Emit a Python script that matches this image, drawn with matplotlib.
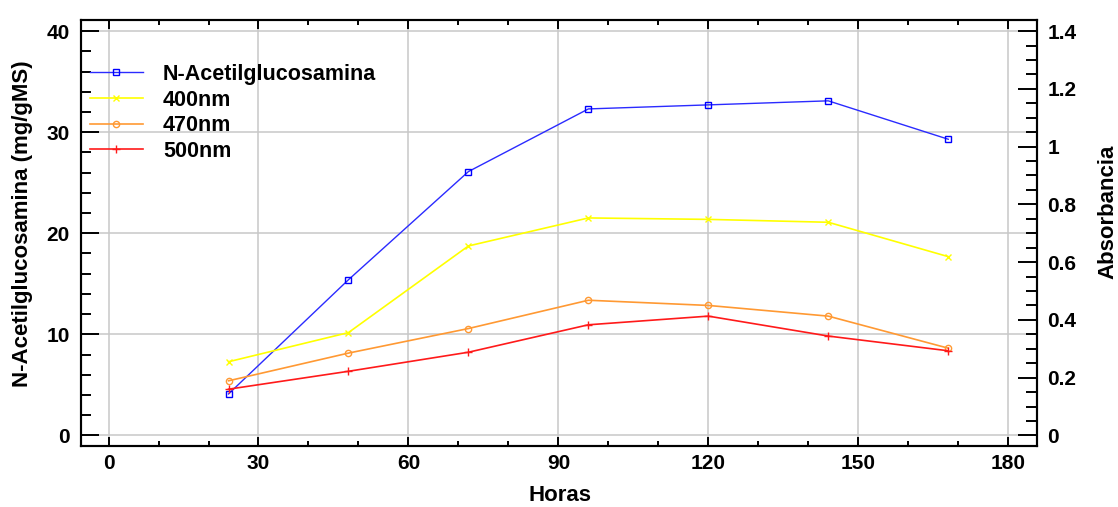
import matplotlib
matplotlib.use('Agg')
import matplotlib.pyplot as plt
from matplotlib.ticker import MultipleLocator

plt.rcParams['font.family'] = ['Liberation Sans', 'DejaVu Sans']
plt.rcParams['font.weight'] = 'bold'

horas = [24, 48, 72, 96, 120, 144, 168]
nag = [4.1, 15.4, 26.1, 32.3, 32.7, 33.1, 29.3]
abs_400 = [0.255, 0.356, 0.656, 0.753, 0.748, 0.738, 0.619]
abs_470 = [0.189, 0.285, 0.370, 0.468, 0.450, 0.413, 0.302]
abs_500 = [0.160, 0.222, 0.288, 0.383, 0.413, 0.344, 0.293]

fig = plt.figure(figsize=(11.18, 5.07), dpi=100)
ax = fig.add_axes([0.0725, 0.1203, 0.8548, 0.8403])
ax2 = ax.twinx()

h1, = ax.plot(horas, nag, color='#2b2bff', lw=1.0, marker='s', ms=4.5,
              mfc='none', mec='#0000ff', mew=1.0, label='N-Acetilglucosamina')
h2, = ax2.plot(horas, abs_400, color='#ffff00', lw=1.2, marker='x', ms=5,
               mew=1.0, label='400nm')
h3, = ax2.plot(horas, abs_470, color='#ff9933', lw=1.2, marker='o', ms=4.5,
               mfc='none', mew=1.0, label='470nm')
h4, = ax2.plot(horas, abs_500, color='#ff1a1a', lw=1.2, marker='+', ms=6,
               mew=1.0, label='500nm')

ax.set_xlim(-5.5, 185.7)
ax.set_ylim(-1.05, 41.1)
ax2.set_ylim(-1.05 * 0.035, 41.1 * 0.035)

ax.xaxis.set_major_locator(MultipleLocator(30))
ax.xaxis.set_minor_locator(MultipleLocator(10))
ax.yaxis.set_major_locator(MultipleLocator(10))
ax.yaxis.set_minor_locator(MultipleLocator(2))
ax2.yaxis.set_major_locator(MultipleLocator(0.2))
ax2.yaxis.set_minor_locator(MultipleLocator(0.05))
ax2.yaxis.set_major_formatter(plt.FuncFormatter(lambda v, p: '%g' % round(v, 2)))

ax.grid(True, which='major', color='#c8c8c8', lw=1.1)
ax.set_axisbelow(True)

ax.tick_params(axis='x', which='major', direction='in', top=True, length=6.5,
               width=1.4, pad=6, labelsize=15)
ax.tick_params(axis='x', which='minor', direction='in', top=True, length=3.5,
               width=1.4)
ax.tick_params(axis='y', which='major', direction='in', length=13, width=1.4,
               pad=8, labelsize=15)
ax.tick_params(axis='y', which='minor', direction='in', length=7, width=1.4)
ax2.tick_params(axis='y', which='major', direction='in', length=14, width=1.4,
                pad=7.5, labelsize=15)
ax2.tick_params(axis='y', which='minor', direction='in', length=8, width=1.4)

for a in (ax, ax2):
    for s in a.spines.values():
        s.set_linewidth(1.5)

ax.set_xlabel('Horas', fontsize=16, fontweight='bold')
ax.set_ylabel('N-Acetilglucosamina (mg/gMS)', fontsize=16, fontweight='bold')
ax2.set_ylabel('Absorbancia', fontsize=16, fontweight='bold')
ax.xaxis.set_label_coords(0.501, -0.0915)
ax.yaxis.set_label_coords(-0.050, 0.521)
ax2.yaxis.set_label_coords(1.064, 0.549)

ax2.legend(handles=[h1, h2, h3, h4], loc='upper left', frameon=False,
           bbox_to_anchor=(90 / 1118, 1 - 64 / 507), bbox_transform=fig.transFigure,
           borderpad=0, borderaxespad=0, handlelength=2.46, handletextpad=0.93,
           labelspacing=0.21, numpoints=1, prop={'size': 15.5, 'weight': 'bold'})

fig.savefig('out.png', dpi=100)
